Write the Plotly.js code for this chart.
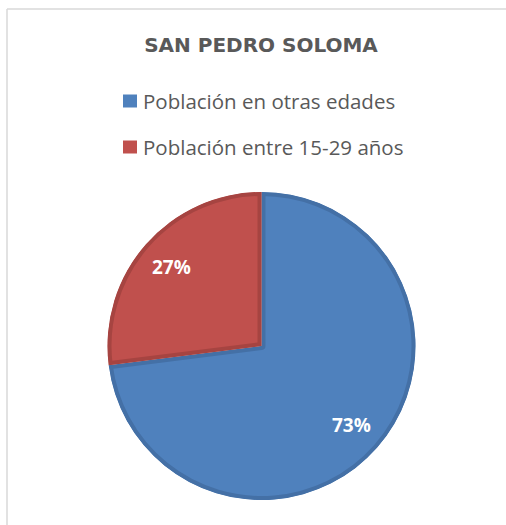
<!DOCTYPE html>
<html><head><meta charset="utf-8">
<script src="https://cdn.plot.ly/plotly-3.0.1.min.js"></script>
<style>html,body{margin:0;padding:0;background:#fff;overflow:hidden}#chart{width:506px;height:525px}</style>
</head><body><div id="chart"></div>
<script>
const chartTitle = "SAN PEDRO SOLOMA";
const labels = ["Población en otras edades", "Población entre 15-29 años"];
const values = [73, 27];
const fillColors = ["#4F81BD", "#C0504D"];
const lineColors = ["#4470A6", "#A64441"];

const W = 506, H = 525;
const px = x => x / W;
const py = y => 1 - y / H;

const cx = 261.5, cy = 346, R = 154;

const data = [{
  type: "pie",
  values: values,
  labels: labels,
  sort: false,
  direction: "clockwise",
  rotation: 0,
  marker: { colors: fillColors, line: { color: lineColors, width: 8 } },
  textinfo: "none",
  hoverinfo: "none",
  domain: { x: [px(cx - R), px(cx + R)], y: [py(cy + R), py(cy - R)] }
}];

const shapes = [
  { type: "line", xref: "paper", yref: "paper", x0: px(7), x1: 1.2, y0: py(9), y1: py(9),
    line: { color: "#D9D9D9", width: 1.5 } },
  { type: "line", xref: "paper", yref: "paper", x0: px(7), x1: px(7), y0: -0.2, y1: py(9),
    line: { color: "#D9D9D9", width: 1.5 } }
];
const annotations = [];
const legendY = [101, 147];
labels.forEach((lab, i) => {
  shapes.push({
    type: "rect", xref: "paper", yref: "paper",
    x0: px(123), x1: px(137), y0: py(legendY[i] + 6.5), y1: py(legendY[i] - 6.5),
    line: { width: 0 }, fillcolor: fillColors[i]
  });
  annotations.push({
    text: lab, xref: "paper", yref: "paper",
    x: px(141), y: py(legendY[i]), xanchor: "left", yanchor: "middle",
    showarrow: false, font: { family: "Open Sans", size: 20.5, color: "#595959" }
  });
});

// percentage labels placed along each slice's bisector, derived from the values
const total = values.reduce((a, b) => a + b, 0);
let cum = 0;
values.forEach((v, i) => {
  const mid = (cum + v / 2) / total;
  cum += v;
  const th = mid * 2 * Math.PI;
  const rl = 0.78 * R;
  annotations.push({
    text: "<b>" + Math.round(v / total * 100) + "%</b>", xref: "paper", yref: "paper",
    x: px(cx + rl * Math.sin(th)), y: py(cy - rl * Math.cos(th)),
    xanchor: "center", yanchor: "middle", showarrow: false,
    font: { family: "Open Sans", size: 19, color: "#FFFFFF" }
  });
});

const layout = {
  width: W, height: H,
  margin: { l: 0, r: 0, t: 0, b: 0 },
  paper_bgcolor: "#FFFFFF",
  showlegend: false,
  title: {
    text: chartTitle, x: px(261), xanchor: "center", xref: "paper",
    y: py(45), yanchor: "middle", yref: "paper",
    font: { family: "DejaVu Sans", size: 20, color: "#595959", weight: "bold" }
  },
  shapes: shapes,
  annotations: annotations
};

Plotly.newPlot("chart", data, layout, { staticPlot: true, displayModeBar: false }).then(gd => {
  const svg = gd.querySelector("svg.main-svg");
  const ns = "http://www.w3.org/2000/svg";
  let defs = svg.querySelector("defs");
  if (!defs) { defs = document.createElementNS(ns, "defs"); svg.insertBefore(defs, svg.firstChild); }
  gd.querySelectorAll("g.slice path.surface").forEach((p, i) => {
    const cp = document.createElementNS(ns, "clipPath");
    cp.setAttribute("id", "sliceclip" + i);
    const cpp = document.createElementNS(ns, "path");
    cpp.setAttribute("d", p.getAttribute("d"));
    if (p.getAttribute("transform")) cpp.setAttribute("transform", p.getAttribute("transform"));
    cp.appendChild(cpp);
    defs.appendChild(cp);
    p.setAttribute("clip-path", "url(#sliceclip" + i + ")");
  });
});
</script>
</body></html>
